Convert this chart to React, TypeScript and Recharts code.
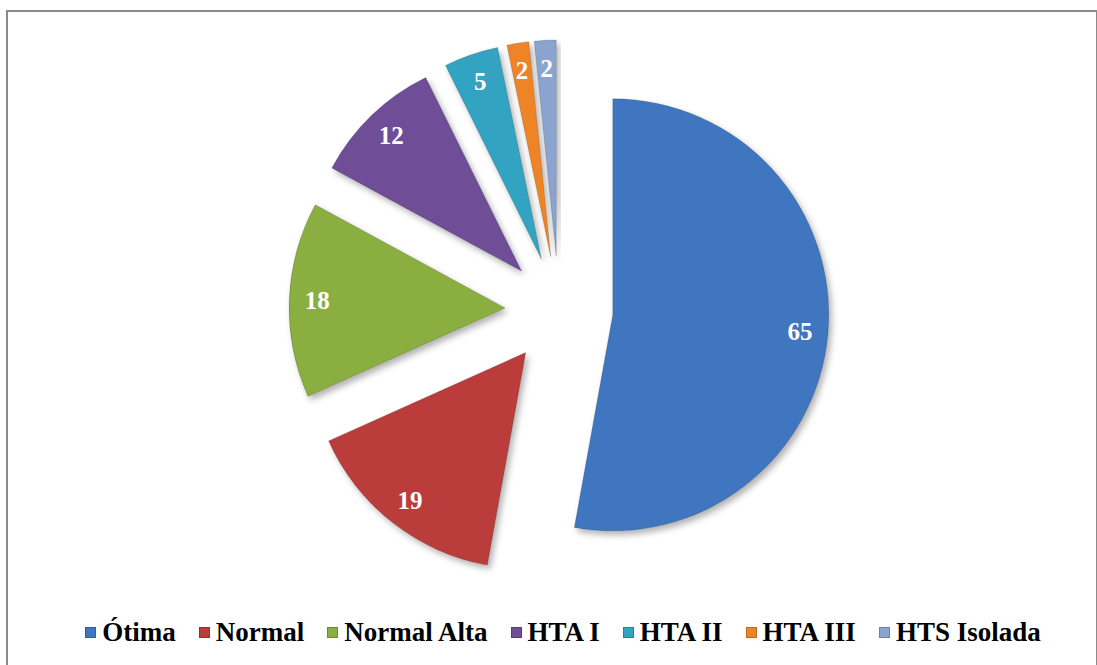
import { PieChart, Pie, Cell } from 'recharts';

const categories = ['Ótima', 'Normal', 'Normal Alta', 'HTA I', 'HTA II', 'HTA III', 'HTS Isolada'];
const values = [65, 19, 18, 12, 5, 2, 2];
const colors = ['#3F76BF', '#BA3D3A', '#8AAE3F', '#6F4E97', '#32A4C1', '#EE8428', '#8AA3CF'];

const data = categories.map((name, i) => ({ name, value: values[i] }));
const total = values.reduce((a, b) => a + b, 0);

const CX = 554;
const CY = 305;
const RADIUS = 216;
const EXPLODE = 54;
const START = 90;
const END = -270;

// mid angle of each slice (degrees, clockwise from the top)
const midAngles = values.map((v, i) => {
  const before = values.slice(0, i).reduce((a, b) => a + b, 0);
  return START - ((before + v / 2) / total) * 360;
});

const RAD = Math.PI / 180;
const serif = '"Times New Roman", "Liberation Serif", Tinos, serif';

const makeLabel = (idx: number) => (props: any) => {
  if (props.index !== idx) return null;
  const r = props.outerRadius * 0.87;
  const x = props.cx + r * Math.cos(-props.midAngle * RAD);
  const y = props.cy + r * Math.sin(-props.midAngle * RAD);
  return (
    <text
      x={x}
      y={y}
      fill="#fff"
      textAnchor="middle"
      dominantBaseline="central"
      style={{ fontFamily: serif, fontWeight: 700, fontSize: 25 }}
    >
      {props.value}
    </text>
  );
};

const App = () => {
  return (
    <div style={{ position: 'absolute', left: 0, top: 0, width: 1097, height: 665, background: '#fff', overflow: 'hidden' }}>
      <div
        style={{
          position: 'absolute',
          left: 6,
          top: 10,
          width: 1092,
          height: 680,
          border: '2px solid #8a8a8a',
          boxSizing: 'border-box',
        }}
      />
      <div style={{ position: 'absolute', left: 0, top: 0 }}>
        <PieChart width={1097} height={610}>
          <defs>
            <filter id="shadow" x="-20%" y="-20%" width="140%" height="140%">
              <feDropShadow dx="3" dy="4" stdDeviation="3" floodColor="#000" floodOpacity="0.3" />
            </filter>
          </defs>
          {data.map((d, i) => (
            <Pie
              key={d.name}
              data={data}
              dataKey="value"
              nameKey="name"
              cx={CX + EXPLODE * Math.cos(midAngles[i] * RAD)}
              cy={CY - EXPLODE * Math.sin(midAngles[i] * RAD)}
              outerRadius={RADIUS}
              startAngle={START}
              endAngle={END}
              label={makeLabel(i)}
              labelLine={false}
              isAnimationActive={false}
            >
              {data.map((e, j) => (
                <Cell
                  key={e.name}
                  fill={j === i ? colors[j] : 'none'}
                  stroke={j === i ? 'rgba(0,0,0,0.15)' : 'none'}
                  strokeWidth={1}
                  filter={j === i ? 'url(#shadow)' : undefined}
                />
              ))}
            </Pie>
          ))}
        </PieChart>
      </div>
      <div
        style={{
          position: 'absolute',
          left: 0,
          top: 617,
          width: 1126,
          display: 'flex',
          justifyContent: 'center',
          alignItems: 'center',
          fontFamily: serif,
          fontWeight: 700,
          fontSize: 27,
          color: '#000',
        }}
      >
        {categories.map((c, i) => (
          <div key={c} style={{ display: 'flex', alignItems: 'center', marginRight: i < categories.length - 1 ? 23 : 0 }}>
            <span
              style={{
                width: 11,
                height: 11,
                background: colors[i],
                boxShadow: 'inset 0 0 0 1px rgba(0,0,0,0.2)',
                marginRight: 6,
                display: 'inline-block',
              }}
            />
            <span>{c}</span>
          </div>
        ))}
      </div>
    </div>
  );
};

export default App;
